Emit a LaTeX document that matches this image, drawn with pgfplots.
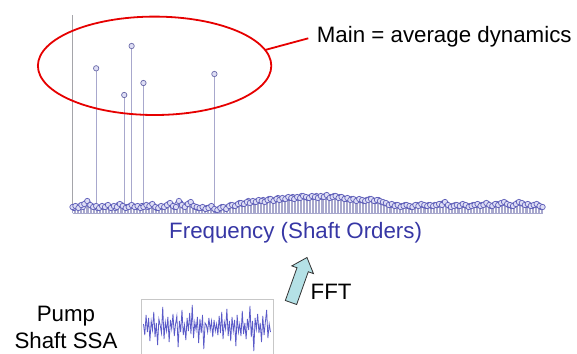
\documentclass[border=0pt]{standalone}
\usepackage{pgfplots}
\pgfplotsset{compat=1.18}
\usepackage{pgfplotstable}
\usepackage{fontspec}
\setmainfont{Liberation Sans}
\definecolor{stemc}{RGB}{168,168,205}
\definecolor{markc}{RGB}{95,95,185}
\definecolor{markf}{RGB}{222,222,245}
\definecolor{axgray}{RGB}{165,165,170}
\definecolor{labblue}{RGB}{55,55,165}
\definecolor{ellred}{RGB}{230,0,0}
\definecolor{arrfill}{RGB}{180,225,230}
\definecolor{sigc}{RGB}{90,90,200}

\pgfplotstableread{
h
6
7
5
8
9
12
8
6
7
5
7
6
8
5
7
6
9
7
5
6
8
6
7
5
6
8
7
9
6
5
7
6
8
10
7
6
12
8
6
9
11
7
6
5
6
4
5
7
4
3
5
6
4
7
8
7
9
10
9
11
10
12
11
13
12
11
13
14
12
14
13
15
14
16
15
14
16
15
17
16
15
17
16
15
17
16
18
15
16
17
15
16
14
15
13
14
12
14
13
12
13
14
12
13
12
11
10
8
9
7
8
6
7
8
7
6
8
7
9
8
7
8
7
8
9
8
11
8
6
7
8
7
9
8
6
7
8
9
7
8
10
8
7
9
8
10
11
9
8
7
9
11
10
8
9
7
8
9
7
6
}\noisetab

\pgfplotstableread{
h
5
6
7
6
10
9
7
6
5
6
6
7
6
6
5
8
8
6
6
7
7
6
6
7
7
6
8
7
5
6
6
7
9
8
6
9
10
7
8
10
8
6
5
5
5
5
6
5
3
4
6
5
6
8
7
8
10
9
10
12
11
11
12
12
13
12
14
13
13
15
14
14
15
15
16
15
15
17
16
15
16
16
17
16
16
17
16
16
17
16
16
15
14
14
14
13
13
13
12
13
14
13
12
13
11
10
9
8
8
8
7
7
8
7
6
7
8
8
8
7
8
7
8
8
9
10
9
7
7
8
7
8
8
7
7
8
8
8
8
9
9
7
8
9
9
10
10
8
7
8
10
10
9
8
8
7
8
8
6
}\noisetabb

\pgfplotstableread{
s
3
-8
12
-5
9
-14
6
-3
15
-10
4
-18
8
2
-6
20
-12
5
-4
10
-15
7
-2
13
-9
3
11
-20
6
-5
17
-8
2
-13
9
-4
14
-7
22
-11
5
-3
10
-16
8
-6
12
-22
4
2
-5
9
-3
6
-10
7
-4
3
-8
11
-6
15
-12
5
-2
18
-9
6
-14
10
-4
7
-19
12
-5
3
-9
16
-7
4
-12
8
-3
21
-10
6
-24
9
-2
13
-6
4
-15
11
-8
5
17
-11
3
-5
}\sigtab

\begin{document}
\begin{tikzpicture}
\useasboundingbox (0bp,0bp) rectangle (577bp,-354bp);

% stem spectrum
\begin{axis}[at={(72.5bp,-213bp)}, anchor=south west, scale only axis,
  width=473bp, height=198bp, xmin=0, xmax=160, ymin=0, ymax=198,
  axis lines=none, clip=false]
\addplot[axgray, line width=1.3bp] coordinates {(0,0) (0,198)};
\addplot[stemc, line width=1bp] coordinates {(0,0) (159,0)};
\addplot[stemc, line width=0.6bp, ycomb, mark=*, mark size=2.7bp,
  mark options={draw=markc, fill=markf, line width=0.7bp}]
  table[x expr=\coordindex+0.5, y index=0] {\noisetabb};
\addplot[stemc, line width=0.6bp, ycomb, mark=*, mark size=2.7bp,
  mark options={draw=markc, fill=markf, line width=0.7bp}]
  table[x expr=\coordindex, y index=0] {\noisetab};
\addplot[stemc, line width=1.2bp, ycomb, mark=*, mark size=2.7bp,
  mark options={draw=markc!70!gray, fill=markf, line width=0.7bp}]
  coordinates {(8,144.7) (17.5,118) (20,167) (24,130) (48,139)};
\end{axis}

% signal box
\draw[black!22, line width=0.8bp, fill=white] (141.5bp,-299bp) rectangle (273.5bp,-360bp);
\begin{axis}[at={(143.5bp,-327bp)}, anchor=west, scale only axis,
  width=127bp, height=60bp, xmin=0, xmax=99, ymin=-30, ymax=30,
  axis lines=none, clip=false]
\addplot[sigc, line width=0.8bp] table[x expr=\coordindex, y index=0] {\sigtab};
\end{axis}

\begin{scope}[x=1bp,y=1bp]
% ellipse and callout
\draw[ellred, line width=1.8bp] (154.6,-65.8) ellipse [x radius=116.7, y radius=49.2];
\draw[ellred, line width=1.8bp] (265,-50) -- (308.3,-38.3);
\node[anchor=base west, inner sep=0, font=\fontsize{22.3bp}{26bp}\selectfont]
  at (316.7,-42.7) {Main = average dynamics};

% axis label
\node[anchor=base west, inner sep=0, text=labblue, font=\fontsize{22.3bp}{26bp}\selectfont]
  at (169,-238.5) {Frequency (Shaft Orders)};

% FFT arrow
\filldraw[fill=arrfill, draw=black!80, line width=0.8bp, line join=miter]
  (285.35,-300.5) -- (296.99,-267.74) -- (291.8,-265.9) -- (307,-257.5)
  -- (313.47,-273.6) -- (308.29,-271.76) -- (296.65,-304.5) -- cycle;
\node[anchor=base west, inner sep=0, font=\fontsize{22.3bp}{26bp}\selectfont]
  at (310.5,-299.5) {FFT};

% Pump Shaft SSA
\node[anchor=base, inner sep=0, font=\fontsize{22.3bp}{26bp}\selectfont]
  at (66,-321.7) {Pump};
\node[anchor=base, inner sep=0, font=\fontsize{22.3bp}{26bp}\selectfont]
  at (66,-348.3) {Shaft SSA};
\end{scope}
\end{tikzpicture}
\end{document}
